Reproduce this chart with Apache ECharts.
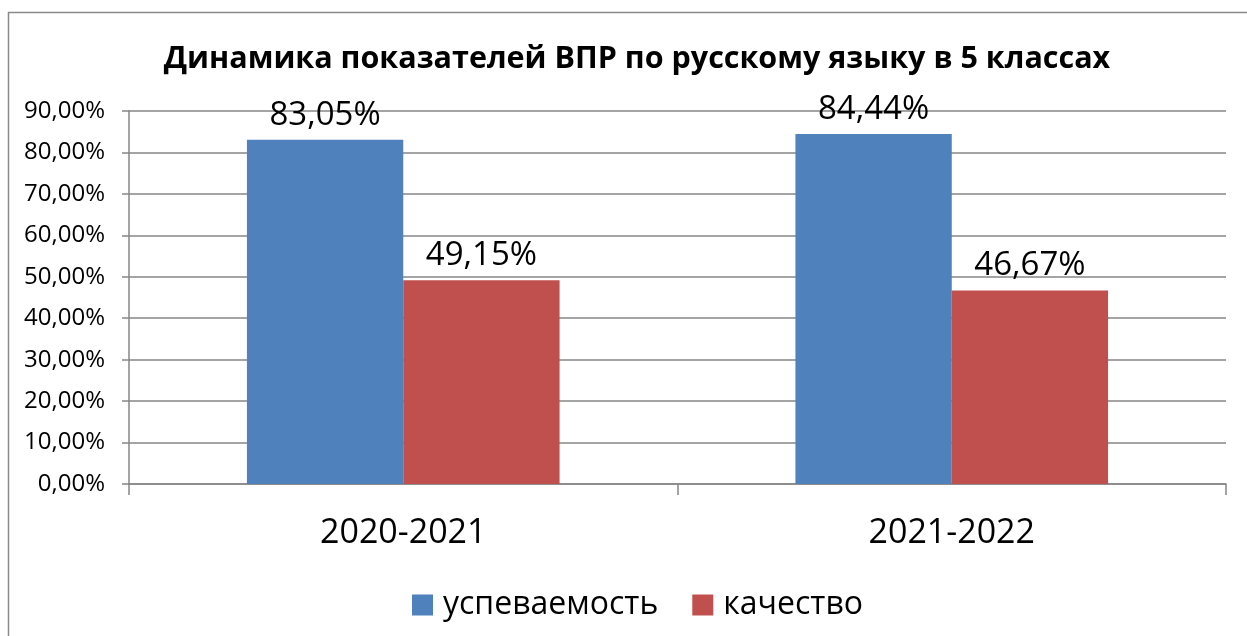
<!DOCTYPE html>
<html>
<head>
<meta charset="utf-8">
<script src="https://cdn.jsdelivr.net/npm/echarts@6/dist/echarts.min.js"></script>
<style>
  html, body { margin: 0; padding: 0; background: #fff; }
  #chart { width: 1247px; height: 636px; }
</style>
</head>
<body>
<div id="chart"></div>
<script>
// данные
const years = ['2020-2021', '2021-2022']
const uspevaemost = [83.05, 84.44]
const kachestvo = [49.15, 46.67]
const seriesNames = ['успеваемость', 'качество']

const fmt = (v) => v.toFixed(2).replace('.', ',') + '%'
const font = '"Open Sans", "Noto Sans", sans-serif'

const chart = echarts.init(document.getElementById('chart'))
const options = {
  animation: false,
  backgroundColor: '#fff',
  textStyle: { fontFamily: font },
  graphic: [{
    type: 'rect',
    shape: { x: 8.5, y: 12.5, width: 2000, height: 1000 },
    style: { fill: 'none', stroke: '#8a8a8a', lineWidth: 1.5 },
    silent: true,
  }],
  title: {
    text: 'Динамика показателей ВПР по русскому языку в 5 классах',
    left: 632,
    textAlign: 'center',
    top: 39,
    textStyle: { fontFamily: font, fontWeight: 'bold', fontSize: 30.5, color: '#000' },
  },
  legend: {
    data: seriesNames,
    left: 407,
    top: 584,
    itemWidth: 21,
    itemHeight: 21,
    itemGap: 34,
    icon: 'rect',
    textStyle: { fontFamily: font, fontSize: 32, color: '#000', padding: [0, 0, 0, 5] },
  },
  grid: { left: 129, right: 21, top: 111, bottom: 152, containLabel: false },
  xAxis: {
    type: 'category',
    data: years,
    axisLine: { lineStyle: { color: '#868686', width: 1.5 } },
    axisTick: { show: true, length: 11, interval: 0, lineStyle: { color: '#868686', width: 1.5 } },
    axisLabel: { fontFamily: font, fontSize: 34, color: '#000', margin: 32 },
  },
  yAxis: {
    type: 'value',
    min: 0,
    max: 90,
    interval: 10,
    axisLine: { show: true, lineStyle: { color: '#868686', width: 1.5 } },
    axisTick: { show: true, length: 7, lineStyle: { color: '#868686', width: 1.5 } },
    splitLine: { lineStyle: { color: '#868686', width: 1.5 } },
    axisLabel: { fontFamily: font, fontSize: 24, color: '#000', margin: 24, formatter: fmt },
  },
  series: [
    {
      name: seriesNames[0],
      type: 'bar',
      data: uspevaemost,
      barGap: 0,
      barCategoryGap: '43%',
      itemStyle: { color: '#4f81bd' },
      label: { show: true, position: 'top', distance: 8, fontFamily: font, fontSize: 33, color: '#000', formatter: (p) => fmt(p.value) },
    },
    {
      name: seriesNames[1],
      type: 'bar',
      data: kachestvo,
      barGap: 0,
      barCategoryGap: '43%',
      itemStyle: { color: '#c0504d' },
      label: { show: true, position: 'top', distance: 8, fontFamily: font, fontSize: 33, color: '#000', formatter: (p) => fmt(p.value) },
    },
  ],
}
chart.setOption(options, true)
</script>
</body>
</html>
